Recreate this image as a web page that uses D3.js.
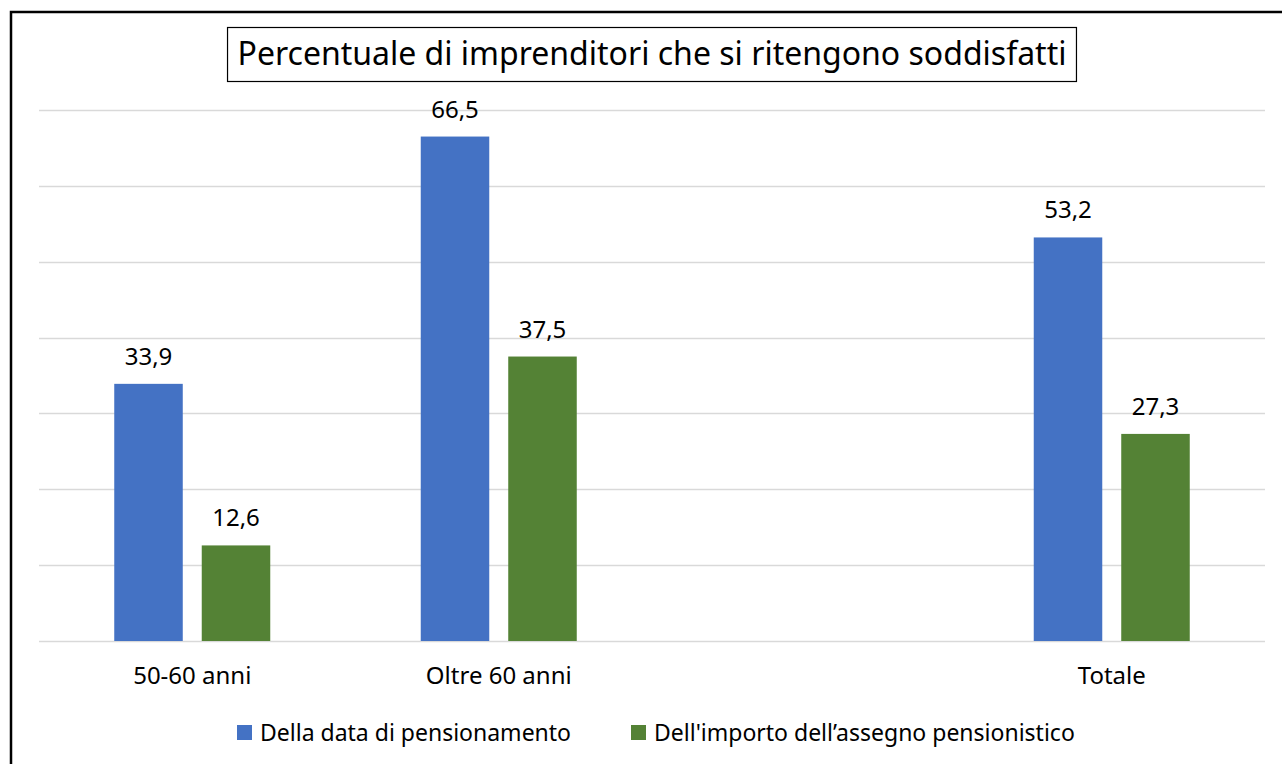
<!DOCTYPE html>
<html>
<head>
<meta charset="utf-8">
<script src="https://cdn.jsdelivr.net/npm/d3@7"></script>
<style>
  body { margin: 0; background: #fff; }
  text { font-family: "Noto Sans", "Open Sans", sans-serif; fill: #000; }
</style>
</head>
<body>
<svg id="chart"></svg>
<script>
// chart data
var categories = ["50-60 anni", "Oltre 60 anni", "", "Totale"];
var seriesNames = ["Della data di pensionamento", "Dell'importo dell\u2019assegno pensionistico"];
var dataPensionamento = [33.9, 66.5, null, 53.2];
var dataImporto = [12.6, 37.5, null, 27.3];
var yTicks = [0, 10, 20, 30, 40, 50, 60, 70];
var titleText = "Percentuale di imprenditori che si ritengono soddisfatti";

var colors = ["#4472C4", "#548235"];

var screen = {width: 1282, height: 764};
var margins = {top: 110, bottom: 123, left: 39, right: 17};
var graph = {
    width: screen.width - margins.left - margins.right,
    height: screen.height - margins.top - margins.bottom
};

var svg = d3.select("#chart")
    .attr("width", screen.width)
    .attr("height", screen.height);

// outer frame (only left and top edges show)
svg.append("rect")
    .attr("x", 11)
    .attr("y", 12)
    .attr("width", screen.width + 20)
    .attr("height", screen.height + 20)
    .attr("fill", "none")
    .attr("stroke", "#000")
    .attr("stroke-width", 2.5);

var rows = categories.map(function(c, i) {
    return {cat: c, values: [dataPensionamento[i], dataImporto[i]]};
});

var x0 = d3.scaleBand()
    .domain(categories)
    .range([0, graph.width])
    .padding(0);

var x1 = d3.scaleBand()
    .domain([0, 1])
    .range([0, x0.bandwidth()])
    .paddingInner(0.217)
    .paddingOuter(0.86);

var yScale = d3.scaleLinear()
    .domain([0, 70])
    .range([graph.height, 0]);

var g = svg.append("g")
    .attr("transform", "translate(" + margins.left + "," + margins.top + ")");

// gridlines
g.append("g")
    .selectAll("line")
    .data(yTicks)
    .enter()
    .append("line")
    .attr("x1", 0)
    .attr("x2", graph.width)
    .attr("y1", function(d) { return Math.round(yScale(d)) + 0.5; })
    .attr("y2", function(d) { return Math.round(yScale(d)) + 0.5; })
    .attr("stroke", "#d9d9d9")
    .attr("stroke-width", 1.5);

var groups = g.selectAll("g.cat")
    .data(rows)
    .enter()
    .append("g")
    .classed("cat", true)
    .attr("transform", function(d) { return "translate(" + x0(d.cat) + ",0)"; });

var bars = groups.selectAll("g.bar")
    .data(function(d) {
        return d.values.map(function(v, i) { return {s: i, v: v}; })
            .filter(function(e) { return e.v != null; });
    })
    .enter()
    .append("g")
    .classed("bar", true);

bars.append("rect")
    .attr("x", function(d) { return x1(d.s); })
    .attr("width", x1.bandwidth())
    .attr("y", function(d) { return yScale(d.v); })
    .attr("height", function(d) { return graph.height - yScale(d.v); })
    .attr("fill", function(d) { return colors[d.s]; });

bars.append("text")
    .attr("x", function(d) { return x1(d.s) + x1.bandwidth() / 2; })
    .attr("y", function(d) { return yScale(d.v) - 19; })
    .attr("text-anchor", "middle")
    .style("font-size", "24px")
    .text(function(d) { return d3.format(".1f")(d.v).replace(".", ","); });

// category axis
var xAxis = d3.axisBottom(x0).tickSize(0).tickPadding(0);
var axisG = g.append("g")
    .attr("transform", "translate(0," + graph.height + ")")
    .call(xAxis);
axisG.select(".domain").remove();
axisG.selectAll("text")
    .attr("dy", null)
    .attr("y", 43)
    .style("font-size", "24px")
    .style("font-family", "'Noto Sans', sans-serif")
    .attr("fill", "#000");

// title with box
var title = svg.append("text")
    .attr("x", 652)
    .attr("y", 65)
    .attr("text-anchor", "middle")
    .style("font-size", "32px")
    .text(titleText);
var tb = title.node().getBBox();
svg.insert("rect", function() { return title.node(); })
    .attr("x", tb.x - 10)
    .attr("y", 27.5)
    .attr("width", tb.width + 20)
    .attr("height", 54)
    .attr("fill", "#fff")
    .attr("stroke", "#000")
    .attr("stroke-width", 1.2);

// legend
var legendPos = [237, 631];
var legend = svg.append("g");
var items = legend.selectAll("g")
    .data(seriesNames)
    .enter()
    .append("g")
    .attr("transform", function(d, i) { return "translate(" + legendPos[i] + ",725)"; });
items.append("rect")
    .attr("width", 15)
    .attr("height", 15)
    .attr("fill", function(d, i) { return colors[i]; });
items.append("text")
    .attr("x", 23)
    .attr("y", 16)
    .style("font-size", "23px")
    .text(function(d) { return d; });
</script>
</body>
</html>
